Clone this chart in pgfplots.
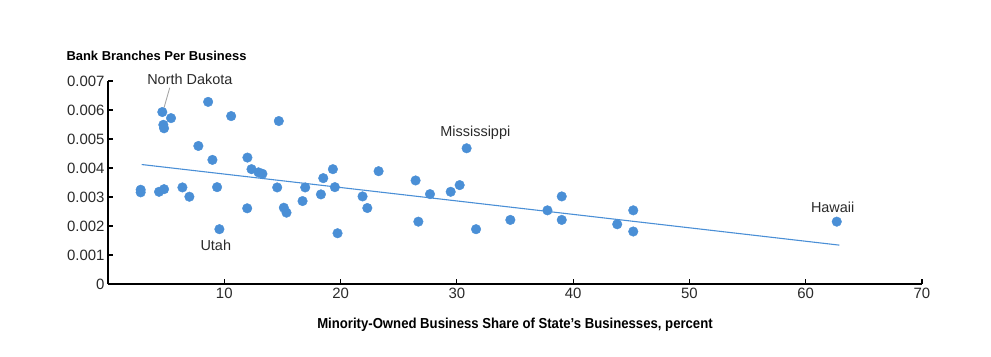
\documentclass[border=0pt]{standalone}
\usepackage{fontspec}
\setmainfont{Liberation Sans}
\newfontfamily\condfont[FakeStretch=0.91]{Liberation Sans}
\usepackage{pgfplots}
\pgfplotsset{compat=1.18}
\definecolor{ptblue}{HTML}{4A8FD6}
\definecolor{lineblue}{HTML}{4A8FD6}
\definecolor{txt}{HTML}{2A2A2A}
\begin{document}
\begin{tikzpicture}
\path[use as bounding box] (-108bp,-73bp) rectangle (883bp,284bp);
\begin{axis}[
  scale only axis,
  width=814bp, height=203bp,
  xmin=0, xmax=70, ymin=0, ymax=0.007,
  axis x line*=bottom, axis y line*=left,
  axis line style={black, line width=1.1pt, -},
  xtick={10,20,...,70},
  ytick={0,0.001,...,0.007},
  yticklabels={0,0.001,0.002,0.003,0.004,0.005,0.006,0.007},
  scaled y ticks=false,
  tick align=inside,
  major tick length=5bp,
  tick style={black, line width=1.1pt},
  tick label style={font=\fontsize{15}{17}\selectfont, text=txt},
  /pgf/number format/assume math mode=true,
  xticklabel style={yshift=-1bp},
  yticklabel style={xshift=0bp},
  clip=false,
  xlabel={\condfont\bfseries Minority-Owned Business Share of State’s Businesses, percent},
  xlabel style={font=\fontsize{14.5}{16}\selectfont, text=black, at={(axis description cs:0.5,0)}, anchor=base, yshift=-44bp},
  ylabel={\bfseries Bank Branches Per Business},
  every axis y label/.style={at={(axis description cs:0,1)}, anchor=base west, xshift=-45bp, yshift=21bp, font=\fontsize{13}{15}\selectfont},
]
\addplot[only marks, mark=*, mark size=4.8bp, mark options={fill=ptblue, draw=ptblue}] coordinates {
(2.81,0.00325) (2.81,0.00316) (4.39,0.00318) (4.82,0.00327) (4.67,0.00593)
(4.76,0.00549) (4.82,0.00537) (5.42,0.00572) (6.40,0.00333) (7.00,0.00301)
(7.77,0.00476) (8.61,0.00628) (8.98,0.00428) (9.38,0.00334) (9.58,0.00189)
(10.59,0.00579) (11.99,0.00436) (11.97,0.00261) (12.34,0.00396) (12.94,0.00385)
(13.28,0.00380) (14.69,0.00562) (14.55,0.00333) (15.12,0.00263) (15.35,0.00246)
(16.96,0.00333) (16.73,0.00286) (18.31,0.00309) (18.51,0.00365) (19.34,0.00396)
(19.51,0.00334) (19.74,0.00175) (21.89,0.00302) (22.30,0.00262) (23.27,0.00389)
(26.45,0.00357) (26.69,0.00215) (27.69,0.00310) (29.47,0.00318) (30.24,0.00341)
(30.84,0.00468) (31.65,0.00189) (34.60,0.00221) (37.79,0.00254) (39.02,0.00302)
(39.02,0.00221) (43.79,0.00206) (45.17,0.00254) (45.17,0.00181) (62.67,0.00215)
};
\addplot[lineblue, line width=1.1pt, no marks] coordinates {(2.9,0.00412) (62.9,0.00134)};
\addplot[gray!70, line width=0.9pt, no marks] coordinates {(4.82,0.00608) (5.31,0.00677)};
\node[anchor=base, font=\fontsize{14.5}{16}\selectfont, text=txt] at (axis cs:7.04,0.00687) {North Dakota};
\node[anchor=base, font=\fontsize{14.5}{16}\selectfont, text=txt] at (axis cs:9.27,0.00115) {Utah};
\node[anchor=base, font=\fontsize{14.5}{16}\selectfont, text=txt] at (axis cs:31.59,0.00510) {Mississippi};
\node[anchor=base, font=\fontsize{14.5}{16}\selectfont, text=txt] at (axis cs:62.32,0.00248) {Hawaii};
\end{axis}
\end{tikzpicture}
\end{document}
